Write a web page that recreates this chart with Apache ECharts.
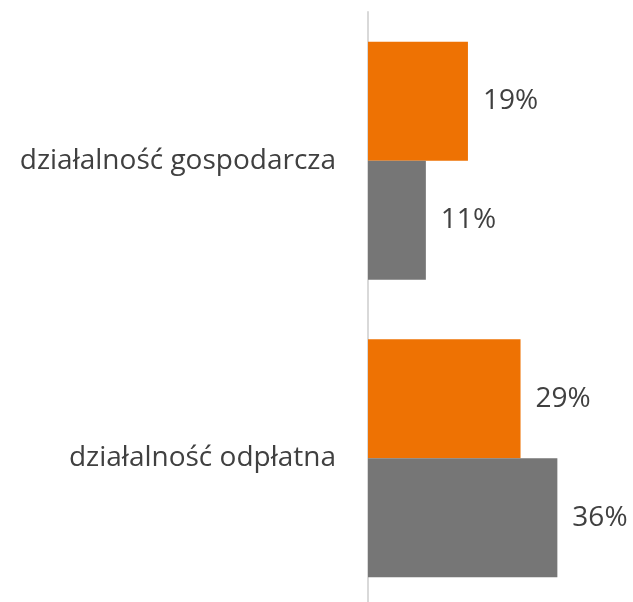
<!DOCTYPE html>
<html>
<head>
<meta charset="utf-8">
<style>html,body{margin:0;padding:0;background:#fff}#chart{width:633px;height:602px}</style>
<script src="https://cdn.jsdelivr.net/npm/echarts@6/dist/echarts.min.js"></script>
</head>
<body>
<div id="chart"></div>
<script>
const categories = ['działalność odpłatna', 'działalność gospodarcza'];
const orangeValues = [29, 19];
const grayValues = [36, 11];

const chart = echarts.init(document.getElementById('chart'));
const labelStyle = {
  show: true, position: 'right', distance: 15, formatter: '{c}%',
  color: '#404040', fontSize: 28, fontFamily: 'Open Sans'
};
chart.setOption({
  animation: false,
  grid: { left: 368, top: 12, width: 263, height: 595, outerBoundsMode: 'none', containLabel: false },
  xAxis: { type: 'value', min: 0, max: 50, show: false },
  yAxis: {
    type: 'category', data: categories,
    axisLine: { show: true, lineStyle: { color: '#d9d9d9', width: 2 } },
    axisTick: { show: false },
    axisLabel: { color: '#404040', fontSize: 28, fontFamily: 'Open Sans', margin: 32 }
  },
  series: [
    { type: 'bar', data: orangeValues, itemStyle: { color: '#ee7203' }, barGap: '0%', barCategoryGap: '20%', label: labelStyle },
    { type: 'bar', data: grayValues, itemStyle: { color: '#767676' }, barGap: '0%', barCategoryGap: '20%', label: labelStyle }
  ]
});
</script>
</body>
</html>
